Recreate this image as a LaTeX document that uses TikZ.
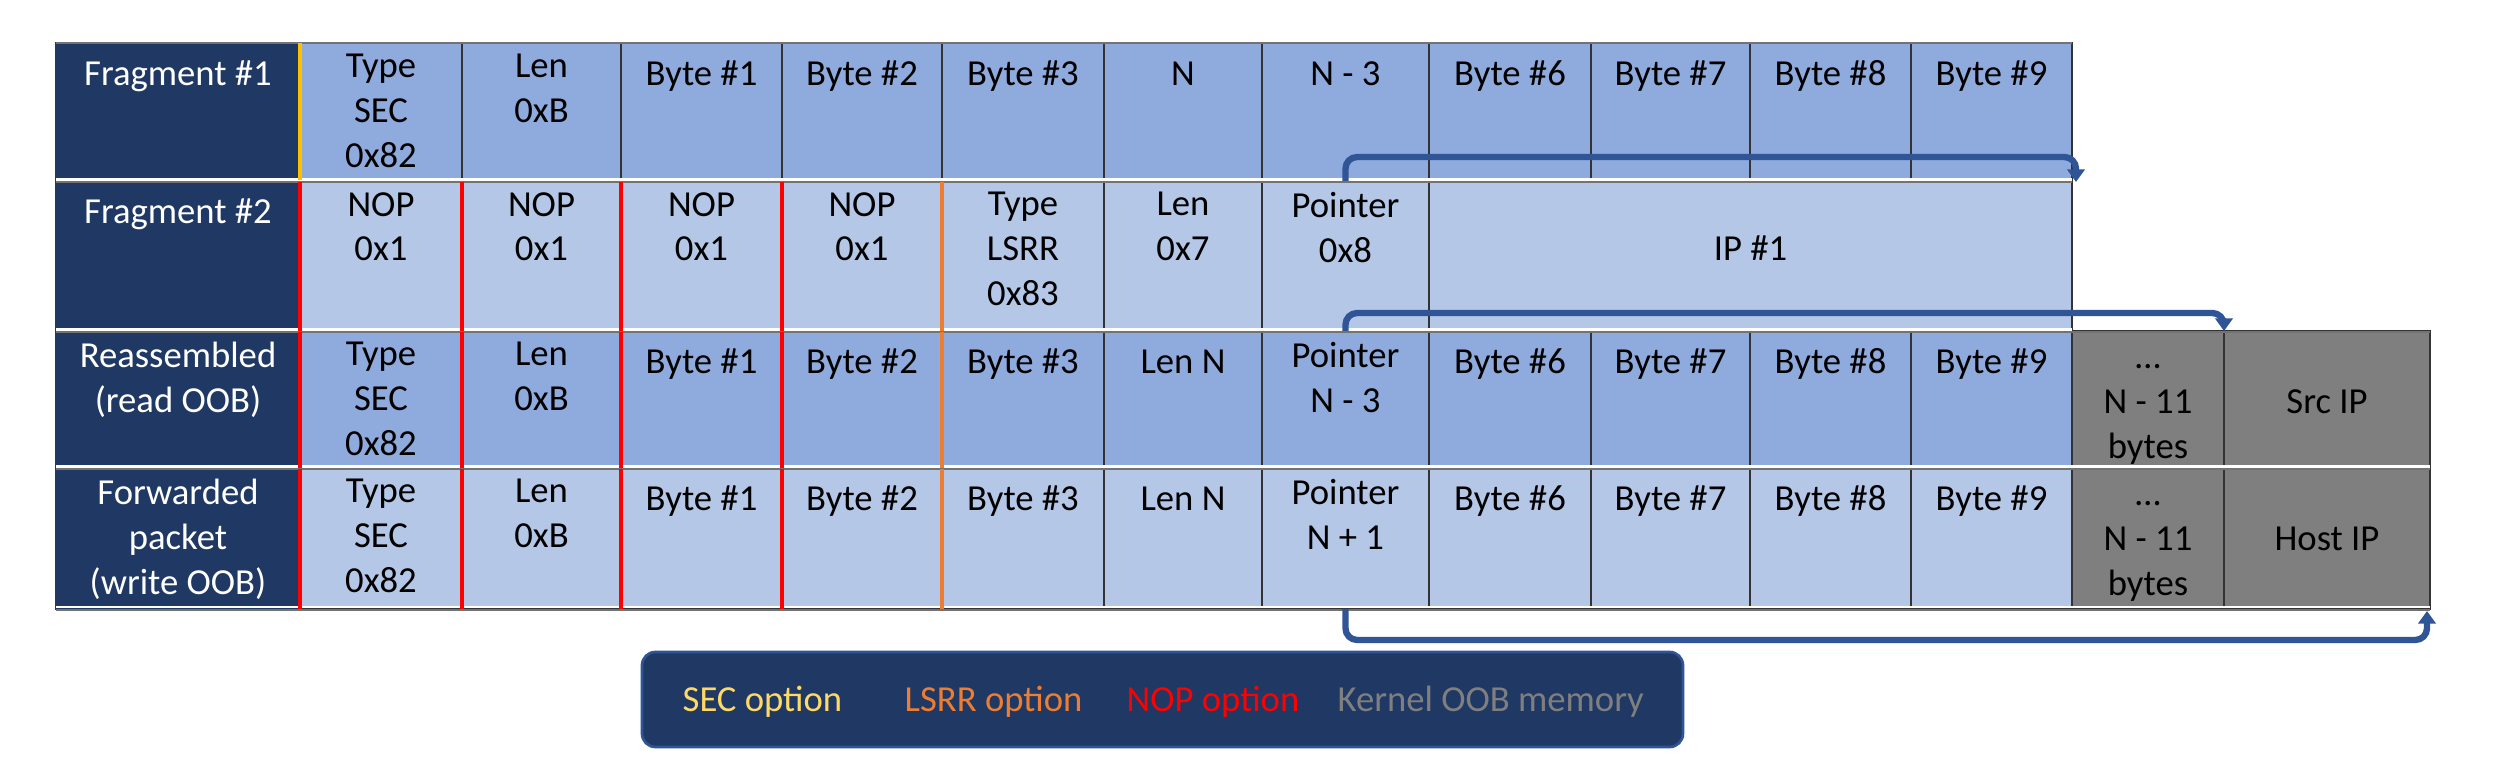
\documentclass[tikz,border=0pt]{standalone}
\usepackage{fontspec}
\setmainfont{Carlito}
\usetikzlibrary{fit,arrows.meta}
\definecolor{navy}{HTML}{1F3864}
\definecolor{midblue}{HTML}{8FAADC}
\definecolor{lightblue}{HTML}{B4C7E7}
\definecolor{oobgray}{HTML}{7F7F7F}
\definecolor{arrowblue}{HTML}{2F5597}
\definecolor{secyellow}{HTML}{FFC000}
\definecolor{legyellow}{HTML}{FFD966}
\definecolor{lsrrorange}{HTML}{ED7D31}
\definecolor{nopred}{HTML}{FF0000}
\newcommand\mycell[7]{%
  \node[cellb,#6,fit={(#2,#4)(#3,#5)}] (#1) {};%
  \node[celltxt] (#1-t) at ([yshift=-3.4pt]#1.north) {#7};}
\newcommand\mylabel[4]{%
  \node[labelb,fit={(56,#2)(300,#3)}] (#1) {};%
  \node[celltxt,text=white] (#1-t) at ([yshift=-3.4pt]#1.north) {#4};}
\begin{document}
\begin{tikzpicture}[x=0.3pt,y=-0.3pt,
  cellb/.style={inner sep=0pt,outer sep=0pt,draw=black!80,line width=0.35pt},
  labelb/.style={inner sep=0pt,outer sep=0pt,fill=navy,draw=navy,line width=0.35pt},
  r1/.style={fill=midblue},
  r2/.style={fill=lightblue},
  oob/.style={fill=oobgray},
  celltxt/.style={inner sep=0pt,outer sep=0pt,anchor=north,align=center,
    font=\fontsize{11}{13.4}\selectfont,execute at begin node=\strut},
  linetxt/.style={inner sep=0pt,outer sep=0pt,anchor=base,
    font=\fontsize{11}{13.4}\selectfont},
  legtxt/.style={inner sep=0pt,anchor=base west,font=\fontsize{11}{13.4}\selectfont},
  sepgray/.style={draw=black!55,line width=0.45pt},
  sepwhite/.style={draw=white,line width=0.7pt},
  secline/.style={draw=secyellow,line width=1.1pt},
  nopline/.style={draw=nopred,line width=1.1pt},
  lsrrline/.style={draw=lsrrorange,line width=1.1pt},
  ptr/.style={draw=arrowblue,line width=1.9pt,rounded corners=3.5pt,
    -{Triangle[width=5.2pt,length=3.8pt]}},
  legendbox/.style={inner sep=0pt,fill=navy,draw=arrowblue,line width=0.8pt,rounded corners=4pt}
]
\useasboundingbox[fill=white] (0,0) rectangle (2500,776);

% ---------- Row 1: Fragment #1
\mylabel{l1}{43}{181}{Fragment \#1}
\mycell{f1-type}{300}{462}{43}{181}{r1}{Type\\SEC\\0x82}
\mycell{f1-len}{462}{621}{43}{181}{r1}{Len\\0xB}
\mycell{f1-b1}{621}{782}{43}{181}{r1}{Byte \#1}
\mycell{f1-b2}{782}{942}{43}{181}{r1}{Byte \#2}
\mycell{f1-b3}{942}{1104}{43}{181}{r1}{Byte \#3}
\mycell{f1-n}{1104}{1262}{43}{181}{r1}{N}
\mycell{f1-n3}{1262}{1429}{43}{181}{r1}{N - 3}
\mycell{f1-b6}{1429}{1591}{43}{181}{r1}{Byte \#6}
\mycell{f1-b7}{1591}{1750}{43}{181}{r1}{Byte \#7}
\mycell{f1-b8}{1750}{1911}{43}{181}{r1}{Byte \#8}
\mycell{f1-b9}{1911}{2072}{43}{181}{r1}{Byte \#9}

% ---------- Row 2: Fragment #2
\mylabel{l2}{181}{331}{Fragment \#2}
\mycell{f2-nop1}{300}{462}{181}{331}{r2}{NOP\\0x1}
\mycell{f2-nop2}{462}{621}{181}{331}{r2}{NOP\\0x1}
\mycell{f2-nop3}{621}{782}{181}{331}{r2}{NOP\\0x1}
\mycell{f2-nop4}{782}{942}{181}{331}{r2}{NOP\\0x1}
\mycell{f2-type}{942}{1104}{181}{331}{r2}{Type\\LSRR\\0x83}
\mycell{f2-len}{1104}{1262}{181}{331}{r2}{Len\\0x7}
\mycell{f2-ptr}{1262}{1429}{181}{331}{r2}{Pointer\\0x8}
\node[cellb,r2,fit={(1429,181)(2072,331)}] (f2-ip) {};
\node[linetxt] (f2-ip-t) at (1750.5,261) {IP \#1};

% ---------- Row 3: Reassembled
\mylabel{l3}{331}{468}{Reassembled\\(read OOB)}
\mycell{r3-type}{300}{462}{331}{468}{r1}{Type\\SEC\\0x82}
\mycell{r3-len}{462}{621}{331}{468}{r1}{Len\\0xB}
\mycell{r3-b1}{621}{782}{331}{468}{r1}{Byte \#1}
\mycell{r3-b2}{782}{942}{331}{468}{r1}{Byte \#2}
\mycell{r3-b3}{942}{1104}{331}{468}{r1}{Byte \#3}
\mycell{r3-lenn}{1104}{1262}{331}{468}{r1}{Len N}
\mycell{r3-ptr}{1262}{1429}{331}{468}{r1}{Pointer\\N - 3}
\mycell{r3-b6}{1429}{1591}{331}{468}{r1}{Byte \#6}
\mycell{r3-b7}{1591}{1750}{331}{468}{r1}{Byte \#7}
\mycell{r3-b8}{1750}{1911}{331}{468}{r1}{Byte \#8}
\mycell{r3-b9}{1911}{2072}{331}{468}{r1}{Byte \#9}
\node[cellb,oob,fit={(2072,331)(2224,468)}] (r3-dots) {};
\node[linetxt] (r3-dots-a) at (2148,369) {…};
\node[linetxt] (r3-dots-b) at (2148,414) {N - 11};
\node[linetxt] (r3-dots-c) at (2148,459) {bytes};
\node[cellb,oob,fit={(2224,331)(2430,468)}] (r3-src) {};
\node[linetxt] (r3-src-t) at (2327,414) {Src IP};

% ---------- Row 4: Forwarded packet
\mylabel{l4}{468}{609}{Forwarded\\packet\\(write OOB)}
\mycell{r4-type}{300}{462}{468}{609}{r2}{Type\\SEC\\0x82}
\mycell{r4-len}{462}{621}{468}{609}{r2}{Len\\0xB}
\mycell{r4-b1}{621}{782}{468}{609}{r2}{Byte \#1}
\mycell{r4-b2}{782}{942}{468}{609}{r2}{Byte \#2}
\mycell{r4-b3}{942}{1104}{468}{609}{r2}{Byte \#3}
\mycell{r4-lenn}{1104}{1262}{468}{609}{r2}{Len N}
\mycell{r4-ptr}{1262}{1429}{468}{609}{r2}{Pointer\\N + 1}
\mycell{r4-b6}{1429}{1591}{468}{609}{r2}{Byte \#6}
\mycell{r4-b7}{1591}{1750}{468}{609}{r2}{Byte \#7}
\mycell{r4-b8}{1750}{1911}{468}{609}{r2}{Byte \#8}
\mycell{r4-b9}{1911}{2072}{468}{609}{r2}{Byte \#9}
\node[cellb,oob,fit={(2072,468)(2224,609)}] (r4-dots) {};
\node[linetxt] (r4-dots-a) at (2148,506) {…};
\node[linetxt] (r4-dots-b) at (2148,551) {N - 11};
\node[linetxt] (r4-dots-c) at (2148,596) {bytes};
\node[cellb,oob,fit={(2224,468)(2430,609)}] (r4-host) {};
\node[linetxt] (r4-host-t) at (2327,551) {Host IP};

% ---------- row separators
\draw[sepgray] (56,43) -- (2072,43);
\draw[sepgray] (56,182) -- (2072,182);
\draw[sepwhite] (56,179.5) -- (2072,179.5);
\draw[sepgray] (56,332) -- (2430,332);
\draw[sepwhite] (56,329.5) -- (2072,329.5);
\draw[sepgray] (56,469) -- (2430,469);
\draw[sepwhite] (56,466.5) -- (2430,466.5);
\draw[sepgray] (56,610) -- (2430,610);
\draw[sepwhite] (56,607) -- (2430,607);

% ---------- option boundaries
\draw[secline] (300,43) -- (300,180);
\foreach \yy/\zz in {182/331,332/468,469/609}{
  \draw[nopline] (300,\yy) -- (300,\zz);
  \draw[nopline] (462,\yy) -- (462,\zz);
  \draw[nopline] (621,\yy) -- (621,\zz);
  \draw[nopline] (782,\yy) -- (782,\zz);
  \draw[lsrrline] (942,\yy) -- (942,\zz);
}

% ---------- pointer arrows
\coordinate (tip1) at (2076,182);
\coordinate (tip3) at (2427,611);
\draw[ptr] (f1-n3.south) -- ++(0,-24) -| (tip1);
\draw[ptr] (f2-ptr.south) -- ++(0,-18) -| (r3-dots.north east);
\draw[ptr] (r4-ptr.south) -- ++(0,31) -| (tip3);

% ---------- legend
\node[legendbox,fit={(642,652)(1683,747)}] (legend) {};
\node[legtxt,text=legyellow] (leg-sec) at (682,712) {SEC option};
\node[legtxt,text=lsrrorange] (leg-lsrr) at (904,712) {LSRR option};
\node[legtxt,text=nopred] (leg-nop) at (1126,712) {NOP option};
\node[legtxt,text=oobgray] (leg-oob) at (1337,712) {Kernel OOB memory};
\end{tikzpicture}
\end{document}
